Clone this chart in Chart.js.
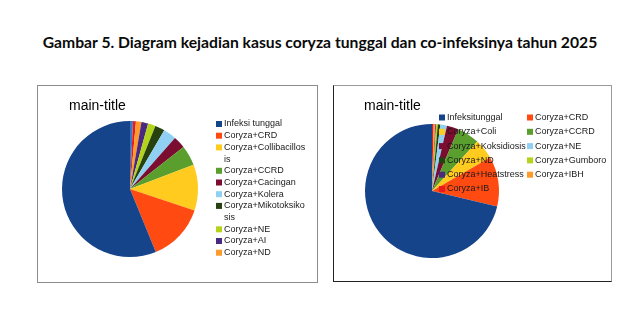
<!DOCTYPE html>
<html>
<head>
<meta charset="utf-8">
<script src="https://cdn.jsdelivr.net/npm/chart.js@4.4.1/dist/chart.umd.min.js"></script>
<style>
  html, body { margin: 0; padding: 0; background: #fff; }
  body { width: 640px; height: 332px; position: relative; overflow: hidden; }
  #caption {
    position: absolute; left: 0; top: 33px; width: 640px; text-align: center;
    font: bold 15.7px Lato, "Open Sans", sans-serif; color: #0a0a0a;
  }
  .box { position: absolute; background: #fff; filter: blur(0.35px); }
  #boxLeft { left: 37px; top: 85px; width: 279px; height: 196px; border: 1px solid #8c8c8c; }
  #boxRight {
    left: 333px; top: 85px; width: 277px; height: 195px;
    border: 1px solid #9a9a9a; border-left-color: #222; border-bottom-color: #222;
  }
  canvas { display: block; }
</style>
</head>
<body>
<div id="caption">Gambar 5. Diagram kejadian kasus coryza tunggal dan co-infeksinya tahun 2025</div>
<div class="box" id="boxLeft"><canvas id="pieLeft" width="279" height="196"></canvas></div>
<div class="box" id="boxRight"><canvas id="pieRight" width="277" height="195"></canvas></div>
<script>
// share of cases (%) per category, legend order
const leftCategories = ['Infeksi tunggal', 'Coryza+CRD', 'Coryza+Collibacillosis', 'Coryza+CCRD',
  'Coryza+Cacingan', 'Coryza+Kolera', 'Coryza+Mikotoksikosis', 'Coryza+NE', 'Coryza+AI',
  'Coryza+ND', 'Coryza+IB', 'Coryza+lainnya'];
const leftValues = [56.2, 13.7, 10.9, 4.8, 2.9, 3.1, 2.3, 1.8, 1.6, 1.3, 0.7, 0.7];
const leftColors = ['#15448a', '#ff4a12', '#ffcb1e', '#5a9e2d', '#7b0e30', '#8fd0f3',
  '#27410f', '#b3d41b', '#4a2a80', '#ff9a2b', '#e81a1c', '#3a78c4'];

const rightCategories = ['Infeksitunggal', 'Coryza+CRD', 'Coryza+Coli', 'Coryza+CCRD',
  'Coryza+Koksidiosis', 'Coryza+NE', 'Coryza+ND', 'Coryza+Gumboro', 'Coryza+Heatstress',
  'Coryza+IBH', 'Coryza+IB'];
const rightValues = [71.3, 12.0, 4.9, 5.4, 2.8, 1.6, 0.6, 0.4, 0.2, 0.4, 0.4];
const rightColors = ['#15448a', '#ff4a12', '#ffcb1e', '#5a9e2d', '#7b0e30', '#8fd0f3',
  '#27410f', '#b3d41b', '#4a2a80', '#ff9a2b', '#e81a1c'];

const FONT = '"Liberation Sans", Arial, sans-serif';

// break a label into lines by characters when it is wider than maxWidth
function wrapChars(ctx, text, maxWidth) {
  if (!maxWidth) return [text];
  const lines = [];
  let line = '';
  for (const ch of text) {
    if (line && ctx.measureText(line + ch).width > maxWidth) {
      lines.push(line);
      line = ch;
    } else {
      line += ch;
    }
  }
  lines.push(line);
  return lines;
}

// small title and legend drawn inside each chart box
const boxText = {
  id: 'boxText',
  afterDraw(chart, args, opts) {
    const ctx = chart.ctx;
    ctx.save();
    ctx.fillStyle = '#000';
    ctx.font = '14px ' + FONT;
    ctx.textBaseline = 'alphabetic';
    ctx.fillText(opts.title, opts.titleX, opts.titleY);

    ctx.font = '9px ' + FONT;
    ctx.textBaseline = 'middle';
    const n = Math.min(opts.count, opts.labels.length);
    let line = 0;
    for (let i = 0; i < n; i += opts.columns) {
      let rowLines = 1;
      for (let c = 0; c < opts.columns && i + c < n; c++) {
        const k = i + c;
        const x = opts.x + c * opts.colWidth;
        const parts = wrapChars(ctx, opts.labels[k], opts.wrap);
        const y = opts.y + line * opts.lineHeight;
        ctx.fillStyle = opts.colors[k];
        ctx.fillRect(x, y - 3, 6, 6);
        ctx.fillStyle = '#1a1a1a';
        parts.forEach((p, j) => ctx.fillText(p, x + 8, y + j * opts.lineHeight));
        rowLines = Math.max(rowLines, parts.length);
      }
      line += rowLines;
    }
    ctx.restore();
  }
};

// pie drawn counter-clockwise from 12 o'clock, so slices are fed in reverse
function makePie(id, categories, values, colors, padding, text) {
  new Chart(document.getElementById(id), {
    type: 'pie',
    data: {
      labels: categories.slice().reverse(),
      datasets: [{
        data: values.slice().reverse(),
        backgroundColor: colors.slice().reverse(),
        borderWidth: 0,
        hoverOffset: 0
      }]
    },
    options: {
      responsive: false,
      animation: false,
      layout: { padding: padding },
      plugins: {
        legend: { display: false },
        tooltip: { enabled: false },
        boxText: Object.assign({ labels: categories, colors: colors }, text)
      }
    },
    plugins: [boxText]
  });
}

makePie('pieLeft', leftCategories, leftValues, leftColors,
  { left: 24, top: 35, right: 119, bottom: 25 },
  { title: 'main-title', titleX: 31, titleY: 24, count: 10, columns: 1, colWidth: 0,
    x: 178, y: 38, lineHeight: 11.7, wrap: 82 });

makePie('pieRight', rightCategories, rightValues, rightColors,
  { left: 31, top: 38, right: 112, bottom: 23 },
  { title: 'main-title', titleX: 30, titleY: 24, count: 11, columns: 2, colWidth: 88,
    x: 105, y: 31.5, lineHeight: 14.3, wrap: 0 });
</script>
</body>
</html>
